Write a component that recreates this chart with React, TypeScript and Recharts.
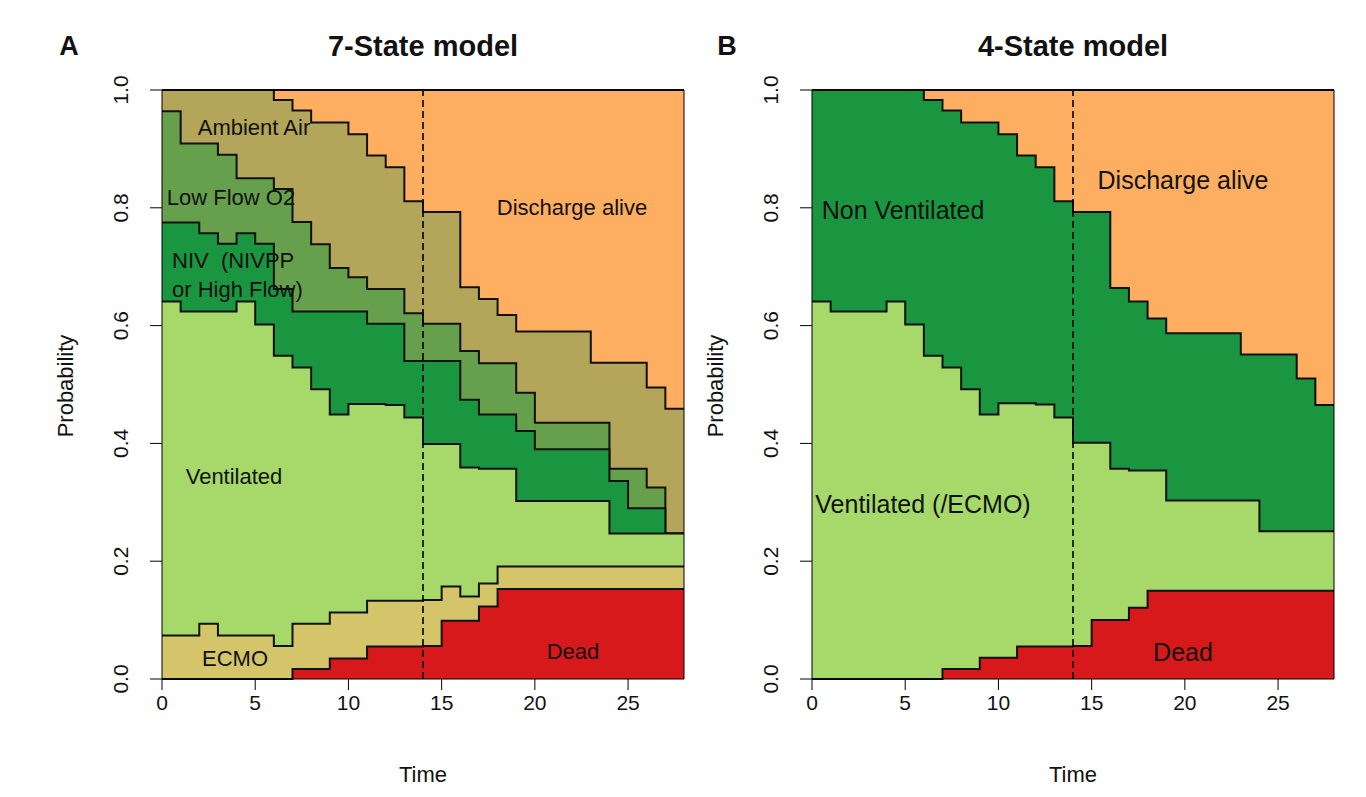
import React from "react";
import { AreaChart, Area, XAxis, YAxis, ReferenceLine } from "recharts";

// day index (state held from day t to t+1)
const days = [0, 1, 2, 3, 4, 5, 6, 7, 8, 9, 10, 11, 12, 13, 14, 15, 16, 17, 18, 19, 20, 21, 22, 23, 24, 25, 26, 27, 28];

// cumulative probabilities (bottom state first)
// 7-state model
const dead7 = [0, 0, 0, 0, 0, 0, 0, 0.017, 0.017, 0.035, 0.035, 0.055, 0.055, 0.055, 0.056, 0.099, 0.099, 0.123, 0.153, 0.153, 0.153, 0.153, 0.153, 0.153, 0.153, 0.153, 0.153, 0.153, 0.153];
const ecmo7 = [0.074, 0.074, 0.094, 0.074, 0.074, 0.074, 0.056, 0.094, 0.094, 0.113, 0.113, 0.133, 0.133, 0.133, 0.134, 0.157, 0.14, 0.162, 0.191, 0.191, 0.191, 0.191, 0.191, 0.191, 0.191, 0.191, 0.191, 0.191, 0.191];
const vent7 = [0.641, 0.624, 0.624, 0.624, 0.641, 0.602, 0.549, 0.529, 0.492, 0.449, 0.467, 0.467, 0.465, 0.444, 0.399, 0.399, 0.359, 0.357, 0.357, 0.302, 0.302, 0.302, 0.302, 0.302, 0.247, 0.247, 0.247, 0.247, 0.247];
const niv7 = [0.775, 0.775, 0.757, 0.739, 0.757, 0.739, 0.662, 0.624, 0.624, 0.624, 0.624, 0.603, 0.603, 0.54, 0.54, 0.54, 0.474, 0.449, 0.449, 0.421, 0.39, 0.39, 0.39, 0.39, 0.336, 0.29, 0.29, 0.247, 0.247];
const lowFlow7 = [0.964, 0.909, 0.909, 0.89, 0.85, 0.85, 0.832, 0.776, 0.738, 0.698, 0.682, 0.662, 0.662, 0.621, 0.603, 0.603, 0.557, 0.536, 0.536, 0.486, 0.435, 0.435, 0.435, 0.435, 0.357, 0.357, 0.325, 0.247, 0.247];
const ambient7 = [1, 1, 1, 1, 1, 1, 0.983, 0.965, 0.945, 0.945, 0.925, 0.889, 0.869, 0.811, 0.793, 0.793, 0.665, 0.645, 0.618, 0.59, 0.59, 0.59, 0.59, 0.537, 0.537, 0.537, 0.495, 0.459, 0.459];
const discharge = [1, 1, 1, 1, 1, 1, 1, 1, 1, 1, 1, 1, 1, 1, 1, 1, 1, 1, 1, 1, 1, 1, 1, 1, 1, 1, 1, 1, 1];

// 4-state model
const dead4 = [0, 0, 0, 0, 0, 0, 0, 0.017, 0.017, 0.036, 0.036, 0.055, 0.055, 0.055, 0.056, 0.1, 0.1, 0.121, 0.15, 0.15, 0.15, 0.15, 0.15, 0.15, 0.15, 0.15, 0.15, 0.15, 0.15];
const vent4 = [0.641, 0.624, 0.624, 0.624, 0.641, 0.602, 0.549, 0.529, 0.492, 0.449, 0.468, 0.468, 0.466, 0.444, 0.401, 0.401, 0.357, 0.354, 0.354, 0.303, 0.303, 0.303, 0.303, 0.303, 0.251, 0.251, 0.251, 0.251, 0.251];
const nonVent4 = [1, 1, 1, 1, 1, 1, 0.983, 0.965, 0.945, 0.945, 0.925, 0.889, 0.869, 0.811, 0.793, 0.793, 0.664, 0.641, 0.612, 0.587, 0.587, 0.587, 0.587, 0.551, 0.551, 0.551, 0.51, 0.465, 0.465];

const xTicks = [0, 5, 10, 15, 20, 25];
const yTicks = [0, 0.2, 0.4, 0.6, 0.8, 1];

const rows7 = days.map((d, i) => ({
  day: d,
  discharge: discharge[i],
  ambient: ambient7[i],
  lowFlow: lowFlow7[i],
  niv: niv7[i],
  vent: vent7[i],
  ecmo: ecmo7[i],
  dead: dead7[i],
}));

const rows4 = days.map((d, i) => ({
  day: d,
  discharge: discharge[i],
  nonVent: nonVent4[i],
  vent: vent4[i],
  dead: dead4[i],
}));

// drawn top layer first, each later one covers the rest
const layers7 = [
  { key: "discharge", color: "#FDAE61" },
  { key: "ambient", color: "#B3A55A" },
  { key: "lowFlow", color: "#67A04D" },
  { key: "niv", color: "#1A9641" },
  { key: "vent", color: "#A6D96A" },
  { key: "ecmo", color: "#D5C56A" },
  { key: "dead", color: "#D7191C" },
];

const layers4 = [
  { key: "discharge", color: "#FDAE61" },
  { key: "nonVent", color: "#1A9641" },
  { key: "vent", color: "#A6D96A" },
  { key: "dead", color: "#D7191C" },
];

const FONT = "'Liberation Sans', Arial, sans-serif";

function YTick(props: any) {
  const { x, y, payload } = props;
  return (
    <text
      x={x}
      y={y}
      transform={`rotate(-90 ${x} ${y})`}
      textAnchor="middle"
      fontSize={21}
      fontFamily={FONT}
      fill="#111"
    >
      {payload.value.toFixed(1)}
    </text>
  );
}

function Panel({ rows, layers, left }: { rows: any[]; layers: { key: string; color: string }[]; left: number }) {
  return (
    <div style={{ position: "absolute", left, top: 0 }}>
      <AreaChart width={700} height={797} data={rows} margin={{ top: 90, right: 16, bottom: 0, left: 0 }}>
        <XAxis
          dataKey="day"
          type="number"
          domain={[0, 28]}
          ticks={xTicks}
          height={118}
          tickSize={11}
          tickMargin={5}
          axisLine={{ stroke: "#000" }}
          tickLine={{ stroke: "#000" }}
          tick={{ fontSize: 21, fill: "#111", fontFamily: FONT }}
        />
        <YAxis
          type="number"
          domain={[0, 1]}
          ticks={yTicks}
          width={162}
          tickSize={12}
          tickMargin={22}
          axisLine={{ stroke: "#000" }}
          tickLine={{ stroke: "#000" }}
          tick={<YTick />}
        />
        {layers.map((l) => (
          <Area
            key={l.key}
            type="stepAfter"
            dataKey={l.key}
            fill={l.color}
            fillOpacity={1}
            stroke="#111"
            strokeWidth={2}
            dot={false}
            activeDot={false}
            isAnimationActive={false}
          />
        ))}
        <ReferenceLine x={14} stroke="#000" strokeWidth={1.6} strokeDasharray="7 4" />
        <ReferenceLine y={1} stroke="#000" />
        <ReferenceLine x={28} stroke="#000" />
      </AreaChart>
    </div>
  );
}

function Txt({ x, y, size, children, bold, rotate }: any) {
  return (
    <div
      style={{
        position: "absolute",
        left: x,
        top: y,
        transform: `translate(-50%, -50%)${rotate ? " rotate(-90deg)" : ""}`,
        fontSize: size,
        lineHeight: 1,
        fontWeight: bold ? "bold" : "normal",
        whiteSpace: "pre",
        color: "#111",
        pointerEvents: "none",
      }}
    >
      {children}
    </div>
  );
}

export default function App() {
  return (
    <div
      style={{
        position: "absolute",
        left: 0,
        top: 0,
        width: 1366,
        height: 797,
        background: "#fff",
        fontFamily: FONT,
        overflow: "hidden",
      }}
    >
      <Panel rows={rows7} layers={layers7} left={0} />
      <Panel rows={rows4} layers={layers4} left={650} />

      <Txt x={69} y={46} size={27} bold>A</Txt>
      <Txt x={423} y={46} size={29} bold>7-State model</Txt>
      <Txt x={727} y={46} size={27} bold>B</Txt>
      <Txt x={1073} y={46} size={29} bold>4-State model</Txt>

      <Txt x={66} y={386} size={22} rotate>Probability</Txt>
      <Txt x={716} y={386} size={22} rotate>Probability</Txt>
      <Txt x={423} y={775} size={22}>Time</Txt>
      <Txt x={1073} y={775} size={22}>Time</Txt>

      <Txt x={254} y={128} size={22}>Ambient Air</Txt>
      <Txt x={231} y={198} size={22}>Low Flow O2</Txt>
      <div style={{ position: "absolute", left: 172, top: 246, fontSize: 22, lineHeight: "29px", color: "#111", whiteSpace: "pre" }}>
        {"NIV  (NIVPP\nor High Flow)"}
      </div>
      <Txt x={572} y={208} size={22}>Discharge alive</Txt>
      <Txt x={234} y={477} size={22}>Ventilated</Txt>
      <Txt x={235} y={659} size={22}>ECMO</Txt>
      <Txt x={573} y={652} size={22}>Dead</Txt>

      <Txt x={903} y={210} size={25}>Non Ventilated</Txt>
      <Txt x={1183} y={180} size={25}>Discharge alive</Txt>
      <Txt x={923} y={504} size={25}>Ventilated (/ECMO)</Txt>
      <Txt x={1183} y={652} size={25}>Dead</Txt>
    </div>
  );
}
